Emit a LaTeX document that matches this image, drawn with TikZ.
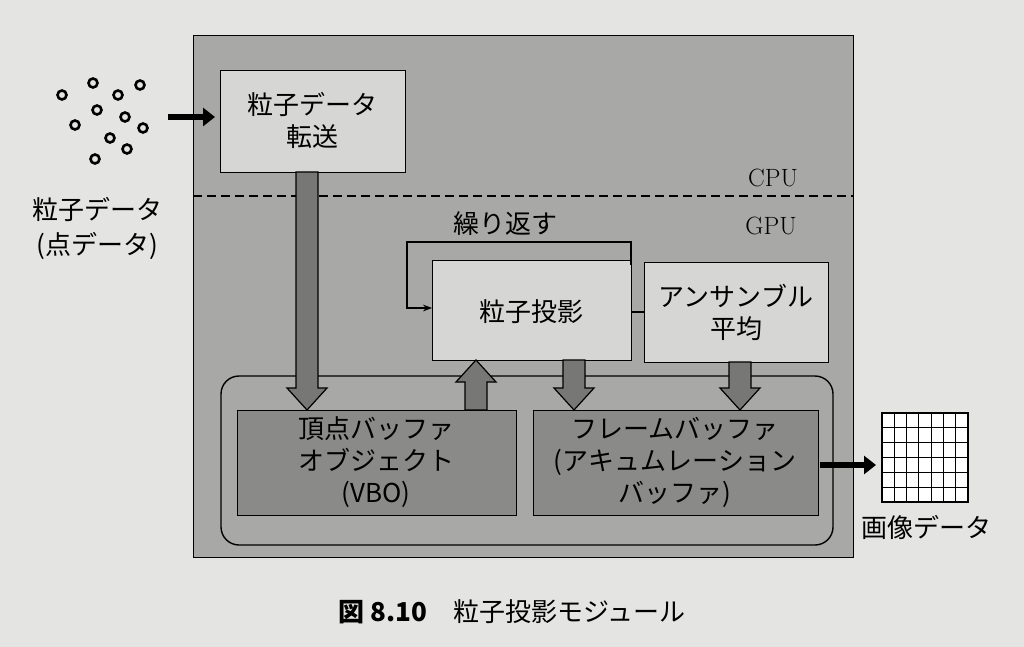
\documentclass[tikz,border=0pt]{standalone}
\usepackage{fontspec}
\newfontfamily\jp{Noto Sans CJK JP}
\usetikzlibrary{arrows.meta}
\definecolor{pg}{HTML}{E4E4E2}
\definecolor{mid}{HTML}{A8A8A6}
\definecolor{lt}{HTML}{D6D6D4}
\definecolor{dk}{HTML}{8A8A88}
\definecolor{ar}{HTML}{777775}
\newcommand{\barrow}[4]{% x, y-tail, y-head, dir sign
 \fill[ar,draw=black,line width=1.2pt] (#1-11,#2) -- (#1+11,#2) -- (#1+11,#3-#4*22) -- (#1+20,#3-#4*22) -- (#1,#3) -- (#1-20,#3-#4*22) -- (#1-11,#3-#4*22) -- cycle;}
\begin{document}
\begin{tikzpicture}[x=1pt,y=-1pt,
 txt/.style={font=\jp\fontsize{26}{32}\selectfont,align=center,inner sep=0},
 box/.style={draw=black,line width=1.4pt},
 thk/.style={-{Triangle[width=18pt,length=12pt]},line width=6pt}]
\fill[pg] (0,0) rectangle (1024,647);
\useasboundingbox (0,0) rectangle (1024,647);
\node[box,fill=mid,minimum width=660,minimum height=522,anchor=north west] (big) at (193,35) {};
\node[box,fill=lt,minimum width=185,minimum height=102,anchor=north west] (tr) at (220,70) {};
\node[txt] at (312,120) {粒子データ\\転送};
\draw[line width=1.3pt,dash pattern=on 9pt off 5pt] (193,196) -- (853,196);
\node[txt,font=\fontsize{25}{30}\selectfont] at (773,178) {CPU};
\node[txt,font=\fontsize{25}{30}\selectfont] at (771,226) {GPU};
\node[box,fill=lt,minimum width=199,minimum height=100,anchor=north west] (pp) at (432,260) {};
\node[txt] at (531,312) {粒子投影};
\node[box,fill=lt,minimum width=184,minimum height=100,anchor=north west] (ea) at (644,262) {};
\node[txt] at (736,312) {アンサンブル\\平均};
\node[txt] at (505,224) {繰り返す};
\draw[line width=1.4pt] (631,312) -- (644,312);
\draw[line width=1.4pt,-{Stealth[length=9pt]}] (631,265) -- (631,242) -- (407,242) -- (407,308) -- (pp.west|-0,308);
\draw[box,fill=mid,rounded corners=18] (221,376) rectangle (833,545);
\node[box,fill=dk,minimum width=279,minimum height=105,anchor=north west] (vbo) at (237,410) {};
\node[txt] at (376,462) {頂点バッファ\\オブジェクト\\(VBO)};
\node[box,fill=dk,minimum width=285,minimum height=105,anchor=north west] (fb) at (533,410) {};
\node[txt] at (675,462) {フレームバッファ\\(アキュムレーション\\バッファ)};
\barrow{307}{172}{410}{1}
\barrow{476}{410}{360}{-1}
\barrow{574}{360}{410}{1}
\barrow{740}{362}{410}{1}
\foreach \p in {(62,95),(93,83),(118,95),(140,85),(75,125),(97,110),(125,117),(143,128),(110,138),(127,149),(95,159)}
 \draw[line width=2.6pt] \p circle (4.5);
\draw[thk] (168,117) -- (215,117);
\node[txt] at (97,210) {粒子データ};
\node[txt] at (97,246) {(点データ)};
\draw[thk] (820,465) -- (876,465);
\fill[white] (882,413) rectangle (968,502);
\draw[line width=1.2pt] (882,413) rectangle (968,502);
\foreach \i in {1,...,6} \draw[line width=1.2pt] (882+\i*86/7,413) -- (882+\i*86/7,502);
\foreach \i in {1,...,5} \draw[line width=1.2pt] (882,413+\i*89/6) -- (968,413+\i*89/6);
\node[txt] at (926,527) {画像データ};
\node[txt] at (512,612) {\textbf{図 8.10}\quad 粒子投影モジュール};
\end{tikzpicture}
\end{document}
